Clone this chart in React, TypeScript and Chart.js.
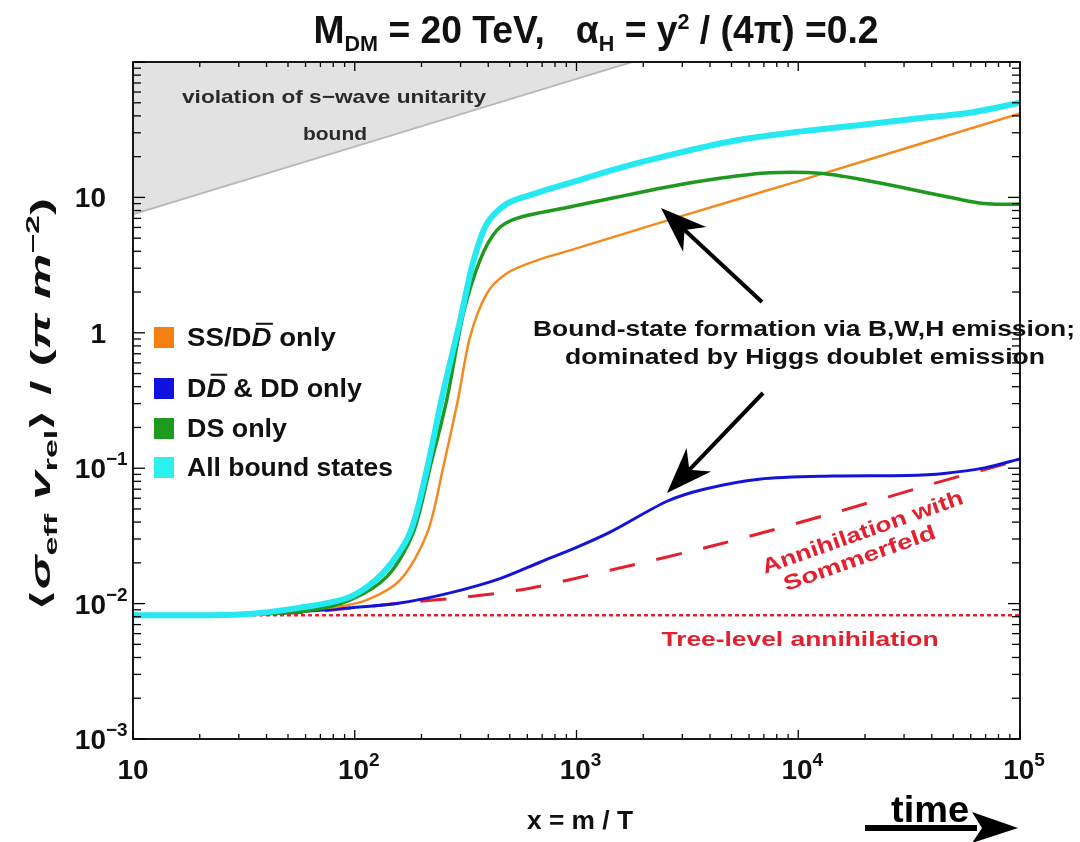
import React, { useEffect, useRef } from 'react';
import { Chart, registerables } from 'chart.js';
Chart.register(...registerables);

const FONT = "'Liberation Sans', Arial, Helvetica, sans-serif";
const NARROW = "'Liberation Sans Narrow', 'Liberation Sans', Arial, sans-serif";

// ---------- data (x = m/T, y = <sigma v> / (pi m^-2)) ----------
const unitX = [10, 100, 1000, 2200];
const unitY = [7.5, 23.7, 75, 111];

const treeX = [10, 100000];
const treeY = [0.0082, 0.0082];

const sommX = [10, 30, 60, 105, 183, 321, 617, 1432, 4570, 14360, 45400, 100000];
const sommY = [0.0082, 0.0083, 0.0086, 0.0094, 0.0103, 0.0112, 0.013, 0.0177, 0.0279, 0.0466, 0.081, 0.115];

const blueX = [10, 30, 50, 95, 160, 269, 452, 684, 1000, 1432, 2560, 3760, 6650, 14360, 30900, 45400, 70000, 100000];
const blueY = [0.0082, 0.0083, 0.0086, 0.0093, 0.0101, 0.012, 0.0153, 0.0202, 0.026, 0.034, 0.057, 0.07, 0.083, 0.0875, 0.0885, 0.0915, 0.101, 0.117];

const orangeX = [10, 30, 80, 113, 160, 212, 250, 292, 331, 394, 486, 664, 934, 3000, 10000, 100000];
const orangeY = [0.0082, 0.0083, 0.0094, 0.0106, 0.0149, 0.033, 0.1, 0.32, 0.93, 1.95, 2.75, 3.43, 4.06, 7.3, 13.2, 41.7];

const greenX = [10, 30, 60, 95, 140, 183, 218, 260, 309, 367, 437, 537, 934, 2460, 4500, 7460, 12900, 22650, 39700, 69000, 100000];
const greenY = [0.0082, 0.0083, 0.0088, 0.0106, 0.0159, 0.033, 0.1, 0.32, 1.39, 3.43, 5.7, 7.0, 8.5, 11.8, 13.9, 15.2, 15.0, 12.9, 10.7, 9.0, 8.9];

const cyanX = [10, 30, 56, 95, 134, 177, 212, 246, 299, 341, 394, 486, 664, 934, 1500, 2460, 5000, 10840, 20000, 32900, 60000, 100000];
const cyanY = [0.0082, 0.0083, 0.0093, 0.0112, 0.0168, 0.033, 0.1, 0.32, 1.24, 3.26, 6.4, 9.0, 10.8, 12.8, 16.2, 20, 26, 31, 34.6, 38, 42.4, 50];

// ---------- ticks ----------
const xTickValues = [10, 100, 1000, 10000, 100000];
const xTickBase = ['10', '10', '10', '10', '10'];
const xTickExp = ['', '2', '3', '4', '5'];
const yTickValues = [0.001, 0.01, 0.1, 1, 10];
const yTickBase = ['10', '10', '10', '1', '10'];
const yTickExp = ['\u22123', '\u22122', '\u22121', '', ''];

const legendLabels = ['SS/DD only', 'DD & DD only', 'DS only', 'All bound states'];
const legendColors = ['#f3800f', '#1212e0', '#1e9a1e', '#2af0f0'];

const COL = {
  cyan: '#25e8f0',
  green: '#1f981f',
  orange: '#f38a1e',
  blue: '#1414d8',
  red: '#e2202e',
};

type Seg = { t: string; s?: number; dy?: number; it?: boolean; ol?: boolean };

function segFont(seg: Seg, size: number, weight: string, family: string) {
  return `${seg.it ? 'italic ' : ''}${weight} ${seg.s ?? size}px ${family}`;
}

function drawRich(
  ctx: CanvasRenderingContext2D,
  segs: Seg[],
  x: number,
  y: number,
  o: { size: number; color: string; align?: string; width?: number; weight?: string; family?: string }
) {
  const weight = o.weight ?? 'bold';
  const family = o.family ?? FONT;
  let natural = 0;
  for (const s of segs) {
    ctx.font = segFont(s, o.size, weight, family);
    natural += ctx.measureText(s.t).width;
  }
  const sx = o.width ? o.width / natural : 1;
  const total = natural * sx;
  const align = o.align ?? 'left';
  const start = align === 'center' ? x - total / 2 : align === 'right' ? x - total : x;
  ctx.save();
  ctx.translate(start, y);
  ctx.scale(sx, 1);
  ctx.textAlign = 'left';
  ctx.textBaseline = 'alphabetic';
  ctx.fillStyle = o.color;
  let cx = 0;
  for (const s of segs) {
    ctx.font = segFont(s, o.size, weight, family);
    const w = ctx.measureText(s.t).width;
    const dy = s.dy ?? 0;
    ctx.fillText(s.t, cx, dy);
    if (s.ol) {
      const sz = s.s ?? o.size;
      ctx.fillRect(cx + w * 0.22, dy - sz * 0.93, w * 0.85, Math.max(1.6, sz * 0.08));
    }
    cx += w;
  }
  ctx.restore();
}

function arrow(ctx: CanvasRenderingContext2D, x1: number, y1: number, x2: number, y2: number, hl: number, hw: number, lw: number) {
  const dx = x2 - x1, dy = y2 - y1;
  const L = Math.hypot(dx, dy);
  const ux = dx / L, uy = dy / L;
  const nx = -uy, ny = ux;
  const bx = x2 - ux * hl, by = y2 - uy * hl;
  const notchX = x2 - ux * hl * 0.7, notchY = y2 - uy * hl * 0.7;
  ctx.save();
  ctx.strokeStyle = '#000';
  ctx.fillStyle = '#000';
  ctx.lineWidth = lw;
  ctx.beginPath();
  ctx.moveTo(x1, y1);
  ctx.lineTo(notchX, notchY);
  ctx.stroke();
  ctx.beginPath();
  ctx.moveTo(x2, y2);
  ctx.lineTo(bx + nx * hw, by + ny * hw);
  ctx.lineTo(notchX, notchY);
  ctx.lineTo(bx - nx * hw, by - ny * hw);
  ctx.closePath();
  ctx.fill();
  ctx.restore();
}

const decorPlugin = {
  id: 'decor',
  afterDatasetsDraw(chart: any) {
    const { ctx, chartArea: a, scales } = chart;
    const xs = scales.x, ys = scales.y;
    ctx.save();
    ctx.strokeStyle = '#000';
    ctx.lineWidth = 1.3;
    const ln = (x1: number, y1: number, x2: number, y2: number) => {
      ctx.beginPath();
      ctx.moveTo(x1, y1);
      ctx.lineTo(x2, y2);
      ctx.stroke();
    };
    for (let e = 1; e <= 5; e++) {
      for (let m = 1; m <= 9; m++) {
        const v = m * Math.pow(10, e);
        if (v > 100000) continue;
        const px = xs.getPixelForValue(v);
        const len = m === 1 ? 9 : 5;
        ln(px, a.bottom, px, a.bottom - len);
        ln(px, a.top, px, a.top + len);
      }
    }
    for (let e = -3; e <= 2; e++) {
      for (let m = 1; m <= 9; m++) {
        const v = m * Math.pow(10, e);
        if (v > 100.0001) continue;
        const py = ys.getPixelForValue(v);
        const len = m === 1 ? 12 : 8;
        ln(a.left, py, a.left + len, py);
        ln(a.right, py, a.right - len, py);
      }
    }
    ctx.lineWidth = 1.8;
    ctx.strokeRect(a.left, a.top, a.right - a.left, a.bottom - a.top);
    ctx.restore();
  },
  afterDraw(chart: any) {
    const { ctx, scales } = chart;
    const xs = scales.x, ys = scales.y;

    // tick labels
    xTickValues.forEach((v, i) => {
      const px = xs.getPixelForValue(v);
      const segs: Seg[] = [{ t: xTickBase[i] }];
      if (xTickExp[i]) segs.push({ t: xTickExp[i], s: 19, dy: -13 });
      drawRich(ctx, segs, px + (xTickExp[i] ? 4 : 0), 779, { size: 28, color: '#111', align: 'center' });
    });
    yTickValues.forEach((v, i) => {
      const py = ys.getPixelForValue(v);
      ctx.font = `bold 28px ${FONT}`;
      const bw = ctx.measureText(yTickBase[i]).width;
      const segs: Seg[] = [{ t: yTickBase[i] }];
      if (yTickExp[i]) segs.push({ t: yTickExp[i], s: 19, dy: -13 });
      drawRich(ctx, segs, 106 - bw, py + 10, { size: 28, color: '#111', align: 'left' });
    });

    // title
    drawRich(
      ctx,
      [
        { t: 'M' },
        { t: 'DM', s: 22, dy: 8 },
        { t: ' = 20 TeV,   \u03b1' },
        { t: 'H', s: 22, dy: 8 },
        { t: ' = y' },
        { t: '2', s: 22, dy: -14 },
        { t: ' / (4\u03c0) =0.2' },
      ],
      596,
      43,
      { size: 38, color: '#111', align: 'center', width: 565, family: NARROW }
    );

    // x axis title
    drawRich(ctx, [{ t: 'x = m / T' }], 580, 829, { size: 26, color: '#111', align: 'center', width: 106 });

    // y axis title (rotated)
    ctx.save();
    ctx.translate(50, 404);
    ctx.rotate(-Math.PI / 2);
    drawRich(
      ctx,
      [
        { t: '\u27e8' },
        { t: '\u03c3', it: true },
        { t: 'eff', s: 18, dy: 7 },
        { t: ' ' },
        { t: 'v', it: true },
        { t: 'rel', s: 18, dy: 7 },
        { t: '\u27e9 / (' },
        { t: '\u03c0', it: true },
        { t: ' ' },
        { t: 'm', it: true },
        { t: '\u22122', s: 18, dy: -11 },
        { t: ')' },
      ],
      0,
      0,
      { size: 27, color: '#111', align: 'center', width: 412 }
    );
    ctx.restore();

    // unitarity text
    drawRich(ctx, [{ t: 'violation of s\u2212wave unitarity' }], 334, 103, { size: 19, color: '#2a2a2a', align: 'center', width: 304 });
    drawRich(ctx, [{ t: 'bound' }], 335, 140, { size: 19, color: '#2a2a2a', align: 'center', width: 64 });

    // bound-state annotation
    drawRich(ctx, [{ t: 'Bound-state formation via B,W,H emission;' }], 804, 336, { size: 22, color: '#111', align: 'center', width: 542 });
    drawRich(ctx, [{ t: 'dominated by Higgs doublet emission' }], 805, 364, { size: 22, color: '#111', align: 'center', width: 480 });
    arrow(ctx, 762, 302, 661, 208, 46, 17, 4);
    arrow(ctx, 763, 393, 667, 493, 46, 17, 4);

    // red labels
    drawRich(ctx, [{ t: 'Tree-level annihilation' }], 800, 646, { size: 21, color: COL.red, align: 'center', width: 277 });
    const rot = (-19.5 * Math.PI) / 180;
    ctx.save();
    ctx.translate(862, 531);
    ctx.rotate(rot);
    drawRich(ctx, [{ t: 'Annihilation with' }], 0, 8, { size: 21, color: COL.red, align: 'center', width: 212 });
    ctx.restore();
    ctx.save();
    ctx.translate(859, 557);
    ctx.rotate(rot);
    drawRich(ctx, [{ t: 'Sommerfeld' }], 0, 8, { size: 21, color: COL.red, align: 'center', width: 160 });
    ctx.restore();

    // legend
    const rowsY = [337, 388, 428, 467];
    const rowsW = [149, 175, 100, 206];
    const legendSegs: Seg[][] = [
      [{ t: 'SS/D' }, { t: 'D', it: true, ol: true }, { t: ' only' }],
      [{ t: 'D' }, { t: 'D', it: true, ol: true }, { t: ' & DD only' }],
      [{ t: legendLabels[2] }],
      [{ t: legendLabels[3] }],
    ];
    rowsY.forEach((ry, i) => {
      ctx.fillStyle = legendColors[i];
      ctx.fillRect(154, ry - 10, 20, 21);
      drawRich(ctx, legendSegs[i], 187, ry + 9, { size: 25, color: '#111', align: 'left', width: rowsW[i] });
    });

    // time arrow
    drawRich(ctx, [{ t: 'time' }], 930, 822, { size: 36, color: '#000', align: 'center', width: 78 });
    ctx.save();
    ctx.fillStyle = '#000';
    ctx.fillRect(865, 825, 112, 6);
    ctx.beginPath();
    ctx.moveTo(1018, 828);
    ctx.lineTo(972, 812);
    ctx.lineTo(982, 828);
    ctx.lineTo(972, 843);
    ctx.closePath();
    ctx.fill();
    ctx.restore();
  },
};

function pts(xs: number[], ys: number[]) {
  return xs.map((x, i) => ({ x, y: ys[i] }));
}

const SMOOTH = 0.3;

export default function App() {
  const ref = useRef<HTMLCanvasElement | null>(null);
  useEffect(() => {
    document.body.style.margin = '0';
    const canvas = ref.current;
    if (!canvas) return;
    const chart = new Chart(canvas, {
      type: 'line',
      data: {
        datasets: [
          {
            label: 'unitarity',
            data: pts(unitX, unitY),
            borderColor: '#b9b9b9',
            backgroundColor: '#e2e2e2',
            borderWidth: 2,
            fill: 'end',
            tension: 0,
            pointRadius: 0,
            order: 10,
          },
          {
            label: 'Tree-level annihilation',
            data: pts(treeX, treeY),
            borderColor: COL.red,
            borderWidth: 2.5,
            borderDash: [4, 3],
            fill: false,
            pointRadius: 0,
            order: 9,
          },
          {
            label: 'Annihilation with Sommerfeld',
            data: pts(sommX, sommY),
            borderColor: COL.red,
            borderWidth: 3,
            borderDash: [26, 22],
            fill: false,
            tension: SMOOTH,
            pointRadius: 0,
            order: 8,
          },
          {
            label: legendLabels[1],
            data: pts(blueX, blueY),
            borderColor: COL.blue,
            borderWidth: 3,
            fill: false,
            tension: SMOOTH,
            pointRadius: 0,
            order: 7,
          },
          {
            label: legendLabels[0],
            data: pts(orangeX, orangeY),
            borderColor: COL.orange,
            borderWidth: 2.5,
            fill: false,
            tension: SMOOTH,
            pointRadius: 0,
            order: 6,
          },
          {
            label: legendLabels[2],
            data: pts(greenX, greenY),
            borderColor: COL.green,
            borderWidth: 3.5,
            fill: false,
            tension: SMOOTH,
            pointRadius: 0,
            order: 5,
          },
          {
            label: legendLabels[3],
            data: pts(cyanX, cyanY),
            borderColor: COL.cyan,
            borderWidth: 6,
            fill: false,
            tension: SMOOTH,
            pointRadius: 0,
            order: 4,
          },
        ],
      },
      options: {
        animation: false,
        responsive: false,
        maintainAspectRatio: false,
        layout: { padding: { left: 133, right: 60, top: 62, bottom: 103 } },
        plugins: {
          legend: { display: false },
          tooltip: { enabled: false },
          title: { display: false },
        },
        scales: {
          x: { type: 'logarithmic', min: 10, max: 100000, display: false },
          y: { type: 'logarithmic', min: 0.001, max: 100, display: false },
        },
        elements: { point: { radius: 0 } },
      } as any,
      plugins: [decorPlugin],
    } as any);
    return () => chart.destroy();
  }, []);
  return (
    <div style={{ width: 1080, height: 842, background: '#fff' }}>
      <canvas ref={ref} width={1080} height={842} style={{ display: 'block' }} />
    </div>
  );
}
